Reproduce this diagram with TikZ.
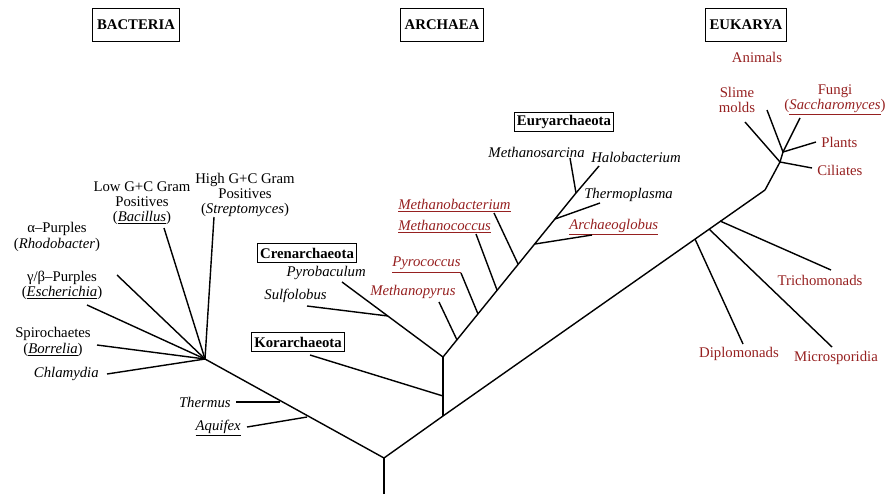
\documentclass[tikz,border=0pt]{standalone}
\usepackage{fontspec}
\setmainfont{Liberation Serif}
\definecolor{eukred}{RGB}{150,32,32}

\begin{document}
\begin{tikzpicture}[x=0.025cm,y=-0.025cm,
  every node/.style={font=\fontsize{10.5}{10.8}\selectfont, inner sep=0pt},
  domainbox/.style={draw, line width=0.6pt, font=\fontsize{10.5}{10.8}\selectfont\bfseries, inner xsep=0.11cm, minimum height=0.82cm},
  cladebox/.style={draw, line width=0.6pt, font=\fontsize{10.5}{10.8}\selectfont\bfseries, inner xsep=0.07cm, minimum height=0.48cm},
  euk/.style={text=eukred},
  every edge/.style={draw, line width=1pt}]
\useasboundingbox (0,0) rectangle (886,494);
\node[domainbox] (bacbox) at (136,25) {BACTERIA};
\node[domainbox] (arcbox) at (442,25) {ARCHAEA};
\node[domainbox] (eukbox) at (746,25) {EUKARYA};
\node[cladebox] (eury) at (564,122) {Euryarchaeota};
\node[cladebox] (cren) at (307,253) {Crenarchaeota};
\node[cladebox] (kor) at (298,342) {Korarchaeota};
\node[align=center] (lowgc) at (142,203) {Low G+C Gram\\Positives\\(\underline{\textit{Bacillus}})};
\node[align=center] (highgc) at (245,195) {High G+C Gram\\Positives\\(\textit{Streptomyces})};
\node[align=center] (alpha) at (57,237) {α–Purples\\(\textit{Rhodobacter})};
\node[align=center] (gamma) at (62,285) {γ/β–Purples\\(\underline{\textit{Escherichia}})};
\node[align=center] (spiro) at (53,342) {Spirochaetes\\(\underline{\textit{Borrelia}})};
\node[anchor=east] (chlam) at (99,374) {\textit{Chlamydia}};
\node[anchor=east] (therm) at (231,402) {\textit{Thermus}};
\node[anchor=east] (aquif) at (241,428) {\underline{\textit{Aquifex}}};
\node[anchor=east] (pyrob) at (366,273) {\textit{Pyrobaculum}};
\node[anchor=east] (sulfo) at (327,296) {\textit{Sulfolobus}};
\node[anchor=west, euk] (mpyr) at (370,292) {\textit{Methanopyrus}};
\node[anchor=west, euk] (pyroc) at (392,265) {\underline{\textit{Pyrococcus}}};
\node[anchor=west, euk] (mcocc) at (398,227) {\underline{\textit{Methanococcus}}};
\node[anchor=west, euk] (mbact) at (398,206) {\underline{\textit{Methanobacterium}}};
\node[anchor=west, euk] (arglo) at (569,227) {\underline{\textit{Archaeoglobus}}};
\node[anchor=west] (tplas) at (584,195) {\textit{Thermoplasma}};
\node[anchor=west] (halob) at (591,157) {\textit{Halobacterium}};
\node[anchor=east] (msarc) at (585,152) {\textit{Methanosarcina}};
\node[euk] (anim) at (757,57) {Animals};
\node[align=center, euk] (slime) at (737,100) {Slime\\molds};
\node[align=center, euk] (fungi) at (835,100) {Fungi\\(\underline{\textit{Saccharomyces}})};
\node[anchor=west, euk] (plant) at (821,142) {Plants};
\node[anchor=west, euk] (cilia) at (817,170) {Ciliates};
\node[euk] (trich) at (820,280) {Trichomonads};
\node[euk] (diplo) at (739,354) {Diplomonads};
\node[euk] (micro) at (836,358) {Microsporidia};
\coordinate (base) at (384,494);
\coordinate (root) at (384,458);
\coordinate (bhub) at (205,359);
\coordinate (thj) at (280,402);
\coordinate (the) at (236,402);
\coordinate (aqj) at (307,417);
\coordinate (aqe) at (247,427);
\coordinate (che) at (107,374);
\coordinate (spe) at (97,345);
\coordinate (gae) at (87,305);
\coordinate (ale) at (117,275);
\coordinate (loe) at (164,228);
\coordinate (hie) at (214,217);
\coordinate (arch) at (443,416);
\coordinate (korj) at (443,396);
\coordinate (kore) at (310,355);
\coordinate (crj) at (443,357);
\coordinate (pbe) at (342,282);
\coordinate (suj) at (388,316);
\coordinate (sue) at (307,306);
\coordinate (mpj) at (457,340);
\coordinate (mpe) at (439,302);
\coordinate (pcj) at (478,314);
\coordinate (pce) at (461,273);
\coordinate (mcj) at (497,290);
\coordinate (mce) at (476,234);
\coordinate (mbj) at (518,264);
\coordinate (mbe) at (494,213);
\coordinate (agj) at (535,244);
\coordinate (age) at (592,235);
\coordinate (tpj) at (555,219);
\coordinate (tpe) at (600,203);
\coordinate (msj) at (576,193);
\coordinate (mse) at (570,158);
\coordinate (hae) at (599,166);
\coordinate (dpj) at (695,239);
\coordinate (dpe) at (743,344);
\coordinate (mij) at (709,229);
\coordinate (mie) at (832,347);
\coordinate (trj) at (720,221);
\coordinate (tre) at (831,270);
\coordinate (ek1) at (765,190);
\coordinate (ek2) at (780,162);
\coordinate (ek3) at (783,152);
\coordinate (sme) at (745,122);
\coordinate (cie) at (812,168);
\coordinate (ane) at (767,110);
\coordinate (fue) at (800,118);
\coordinate (ple) at (816,142);
\path [] (base) edge (root);
\path [] (root) edge (bhub);
\path [] (thj) edge (the);
\path [] (aqj) edge (aqe);
\path [] (bhub) edge (che);
\path [] (bhub) edge (spe);
\path [] (bhub) edge (gae);
\path [] (bhub) edge (ale);
\path [] (bhub) edge (loe);
\path [] (bhub) edge (hie);
\path [] (root) edge (arch);
\path [] (arch) edge (crj);
\path [] (korj) edge (kore);
\path [] (crj) edge (pbe);
\path [] (suj) edge (sue);
\path [] (crj) edge (msj);
\path [] (msj) edge (hae);
\path [] (msj) edge (mse);
\path [] (mpj) edge (mpe);
\path [] (pcj) edge (pce);
\path [] (mcj) edge (mce);
\path [] (mbj) edge (mbe);
\path [] (agj) edge (age);
\path [] (tpj) edge (tpe);
\path [] (arch) edge (ek1);
\path [] (dpj) edge (dpe);
\path [] (mij) edge (mie);
\path [] (trj) edge (tre);
\path [] (ek1) edge (ek2);
\path [] (ek2) edge (ek3);
\path [] (ek2) edge (sme);
\path [] (ek2) edge (cie);
\path [] (ek3) edge (ane);
\path [] (ek3) edge (fue);
\path [] (ek3) edge (ple);
\end{tikzpicture}
\end{document}
